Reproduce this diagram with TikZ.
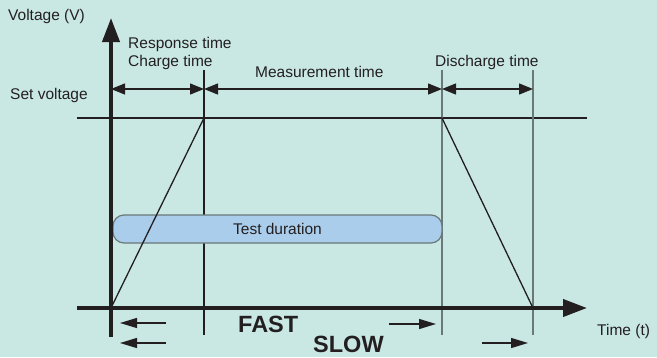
\documentclass[tikz,border=0pt]{standalone}
\usepackage{fontspec}
\setmainfont{Liberation Sans}
\usetikzlibrary{arrows.meta}
\definecolor{bg}{RGB}{201,232,228}
\definecolor{boxfill}{RGB}{170,205,235}
\definecolor{ink}{RGB}{35,31,32}
\definecolor{guide}{RGB}{105,120,120}
\begin{document}
\begin{tikzpicture}[x=1pt,y=-1pt,
  lbl/.style={inner sep=0pt,anchor=base west,text=ink,font=\fontsize{15.5}{18}\selectfont},
  big/.style={inner sep=0pt,anchor=base west,text=ink,font=\fontsize{23.5}{26}\selectfont\bfseries},
  axis/.style={draw=ink,line width=4pt,-{Triangle[length=24pt,width=17pt]}},
  dim/.style={draw=ink,line width=1.3pt,{Triangle[length=14pt,width=11pt]}-{Triangle[length=14pt,width=11pt]}},
  small/.style={draw=ink,line width=1.3pt,-{Triangle[length=17pt,width=10pt]}},
  thin/.style={draw=ink,line width=1.3pt},
  guideline/.style={draw=guide,line width=1.6pt}]
\fill[bg] (0,0) rectangle (657,357);
\useasboundingbox (0,0) rectangle (657,357);
% coordinates
\coordinate (o) at (111,308);
\coordinate (ytop) at (111,18);
\coordinate (ybot) at (111,337);
\coordinate (xl) at (77,308);
\coordinate (xr) at (587,308);
\coordinate (sl) at (77,118);
\coordinate (sr) at (587,118);
\coordinate (p1) at (204,118);
\coordinate (p2) at (442,118);
\coordinate (p3) at (533,308);
\coordinate (v1t) at (204,70);
\coordinate (v1b) at (204,335);
\coordinate (v2t) at (442,70);
\coordinate (v2b) at (442,335);
\coordinate (v3t) at (533,70);
\coordinate (v3b) at (533,335);
\coordinate (d0) at (111,89);
\coordinate (d1) at (204,89);
\coordinate (d2) at (442,89);
\coordinate (d3) at (533,89);
% guides
\draw[thin] (sl) -- (sr);
\draw[thin] (v1t) -- (v1b);
\draw[guideline] (v2t) -- (v2b);
\draw[guideline] (v3t) -- (v3b);
% test duration box
\node[draw=guide,line width=1.2pt,fill=boxfill,rounded corners=11pt,minimum width=329pt,minimum height=28pt,inner sep=0pt,
  text=ink,font=\fontsize{15.5}{18}\selectfont] (td) at (277.5,229) {Test duration};
% trapezoid
\draw[thin,line join=miter] (o) -- (p1) -- (p2) -- (p3);
% axes
\draw[axis] (xl) -- (xr);
\draw[axis] (ybot) -- (ytop);
% dimension arrows
\draw[dim] (d0) -- (d1);
\draw[dim] (d1) -- (d2);
\draw[dim] (d2) -- (d3);
% small arrows
\coordinate (a1s) at (166,323); \coordinate (a1e) at (120,323);
\coordinate (a2s) at (166,343); \coordinate (a2e) at (120,343);
\coordinate (a3s) at (389,324); \coordinate (a3e) at (436,324);
\coordinate (a4s) at (482,343); \coordinate (a4e) at (528,343);
\draw[small] (a1s) -- (a1e);
\draw[small] (a2s) -- (a2e);
\draw[small] (a3s) -- (a3e);
\draw[small] (a4s) -- (a4e);
% labels
\node[lbl] (volt) at (8,20) {Voltage (V)};
\node[lbl] (resp) at (128,48.5) {Response time};
\node[lbl] (charge) at (128,66) {Charge time};
\node[lbl] (meas) at (255,77) {Measurement time};
\node[lbl] (dis) at (435,66) {Discharge time};
\node[lbl] (setv) at (10,99) {Set voltage};
\node[lbl] (time) at (597,335) {Time (t)};
\node[big] (fast) at (238,332) {FAST};
\node[big] (slow) at (313,352) {SLOW};
\end{tikzpicture}
\end{document}
